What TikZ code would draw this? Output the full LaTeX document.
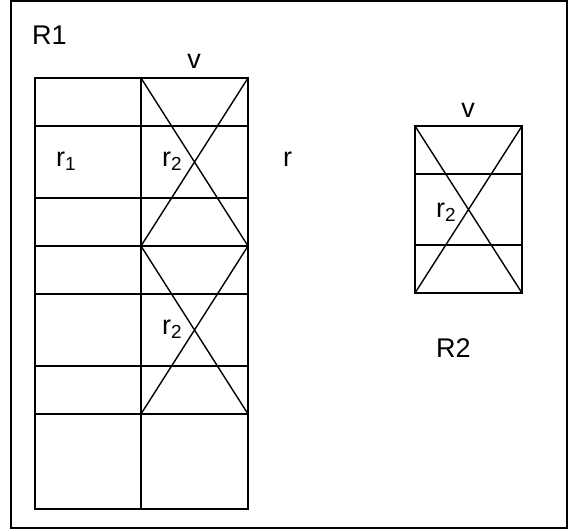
\documentclass[tikz,border=0pt]{standalone}
\usepackage{fontspec}
\setmainfont{Liberation Sans}
\begin{document}
\begin{tikzpicture}[x=1pt,y=-1pt,
  grid/.style={line width=1.4pt},
  lbl/.style={inner sep=0pt,font=\fontsize{27}{31}\selectfont}]
\useasboundingbox (0,0) rectangle (572,530);
% outer frame
\draw[line width=1.4pt] (11,1) rectangle (567,528);
% left grid
\draw[grid] (35,78) rectangle (248,509);
\draw[grid] (141,78) -- (141,509);
\foreach \yy in {126,198,246,294,366,414}
  \draw[grid] (35,\yy) -- (248,\yy);
\draw[grid] (141,78) -- (248,246) (248,78) -- (141,246);
\draw[grid] (141,246) -- (248,414) (248,246) -- (141,414);
% right grid
\draw[grid] (415,126) rectangle (522,293);
\foreach \yy in {174,245}
  \draw[grid] (415,\yy) -- (522,\yy);
\draw[grid] (415,126) -- (522,293) (522,126) -- (415,293);
% labels
\node[lbl,anchor=base west] (R1) at (32,44) {R1};
\node[lbl,anchor=base] (v1) at (194,68) {v};
\node[lbl,anchor=base west] (r1) at (56,166) {r\textsubscript{1}};
\node[lbl,anchor=base west] (r2a) at (162,166) {r\textsubscript{2}};
\node[lbl,anchor=base west] (r) at (283,166) {r};
\node[lbl,anchor=base west] (r2b) at (162,334) {r\textsubscript{2}};
\node[lbl,anchor=base] (v2) at (468,117) {v};
\node[lbl,anchor=base west] (r2c) at (436,217) {r\textsubscript{2}};
\node[lbl,anchor=base west] (R2) at (436,357) {R2};
\end{tikzpicture}
\end{document}
